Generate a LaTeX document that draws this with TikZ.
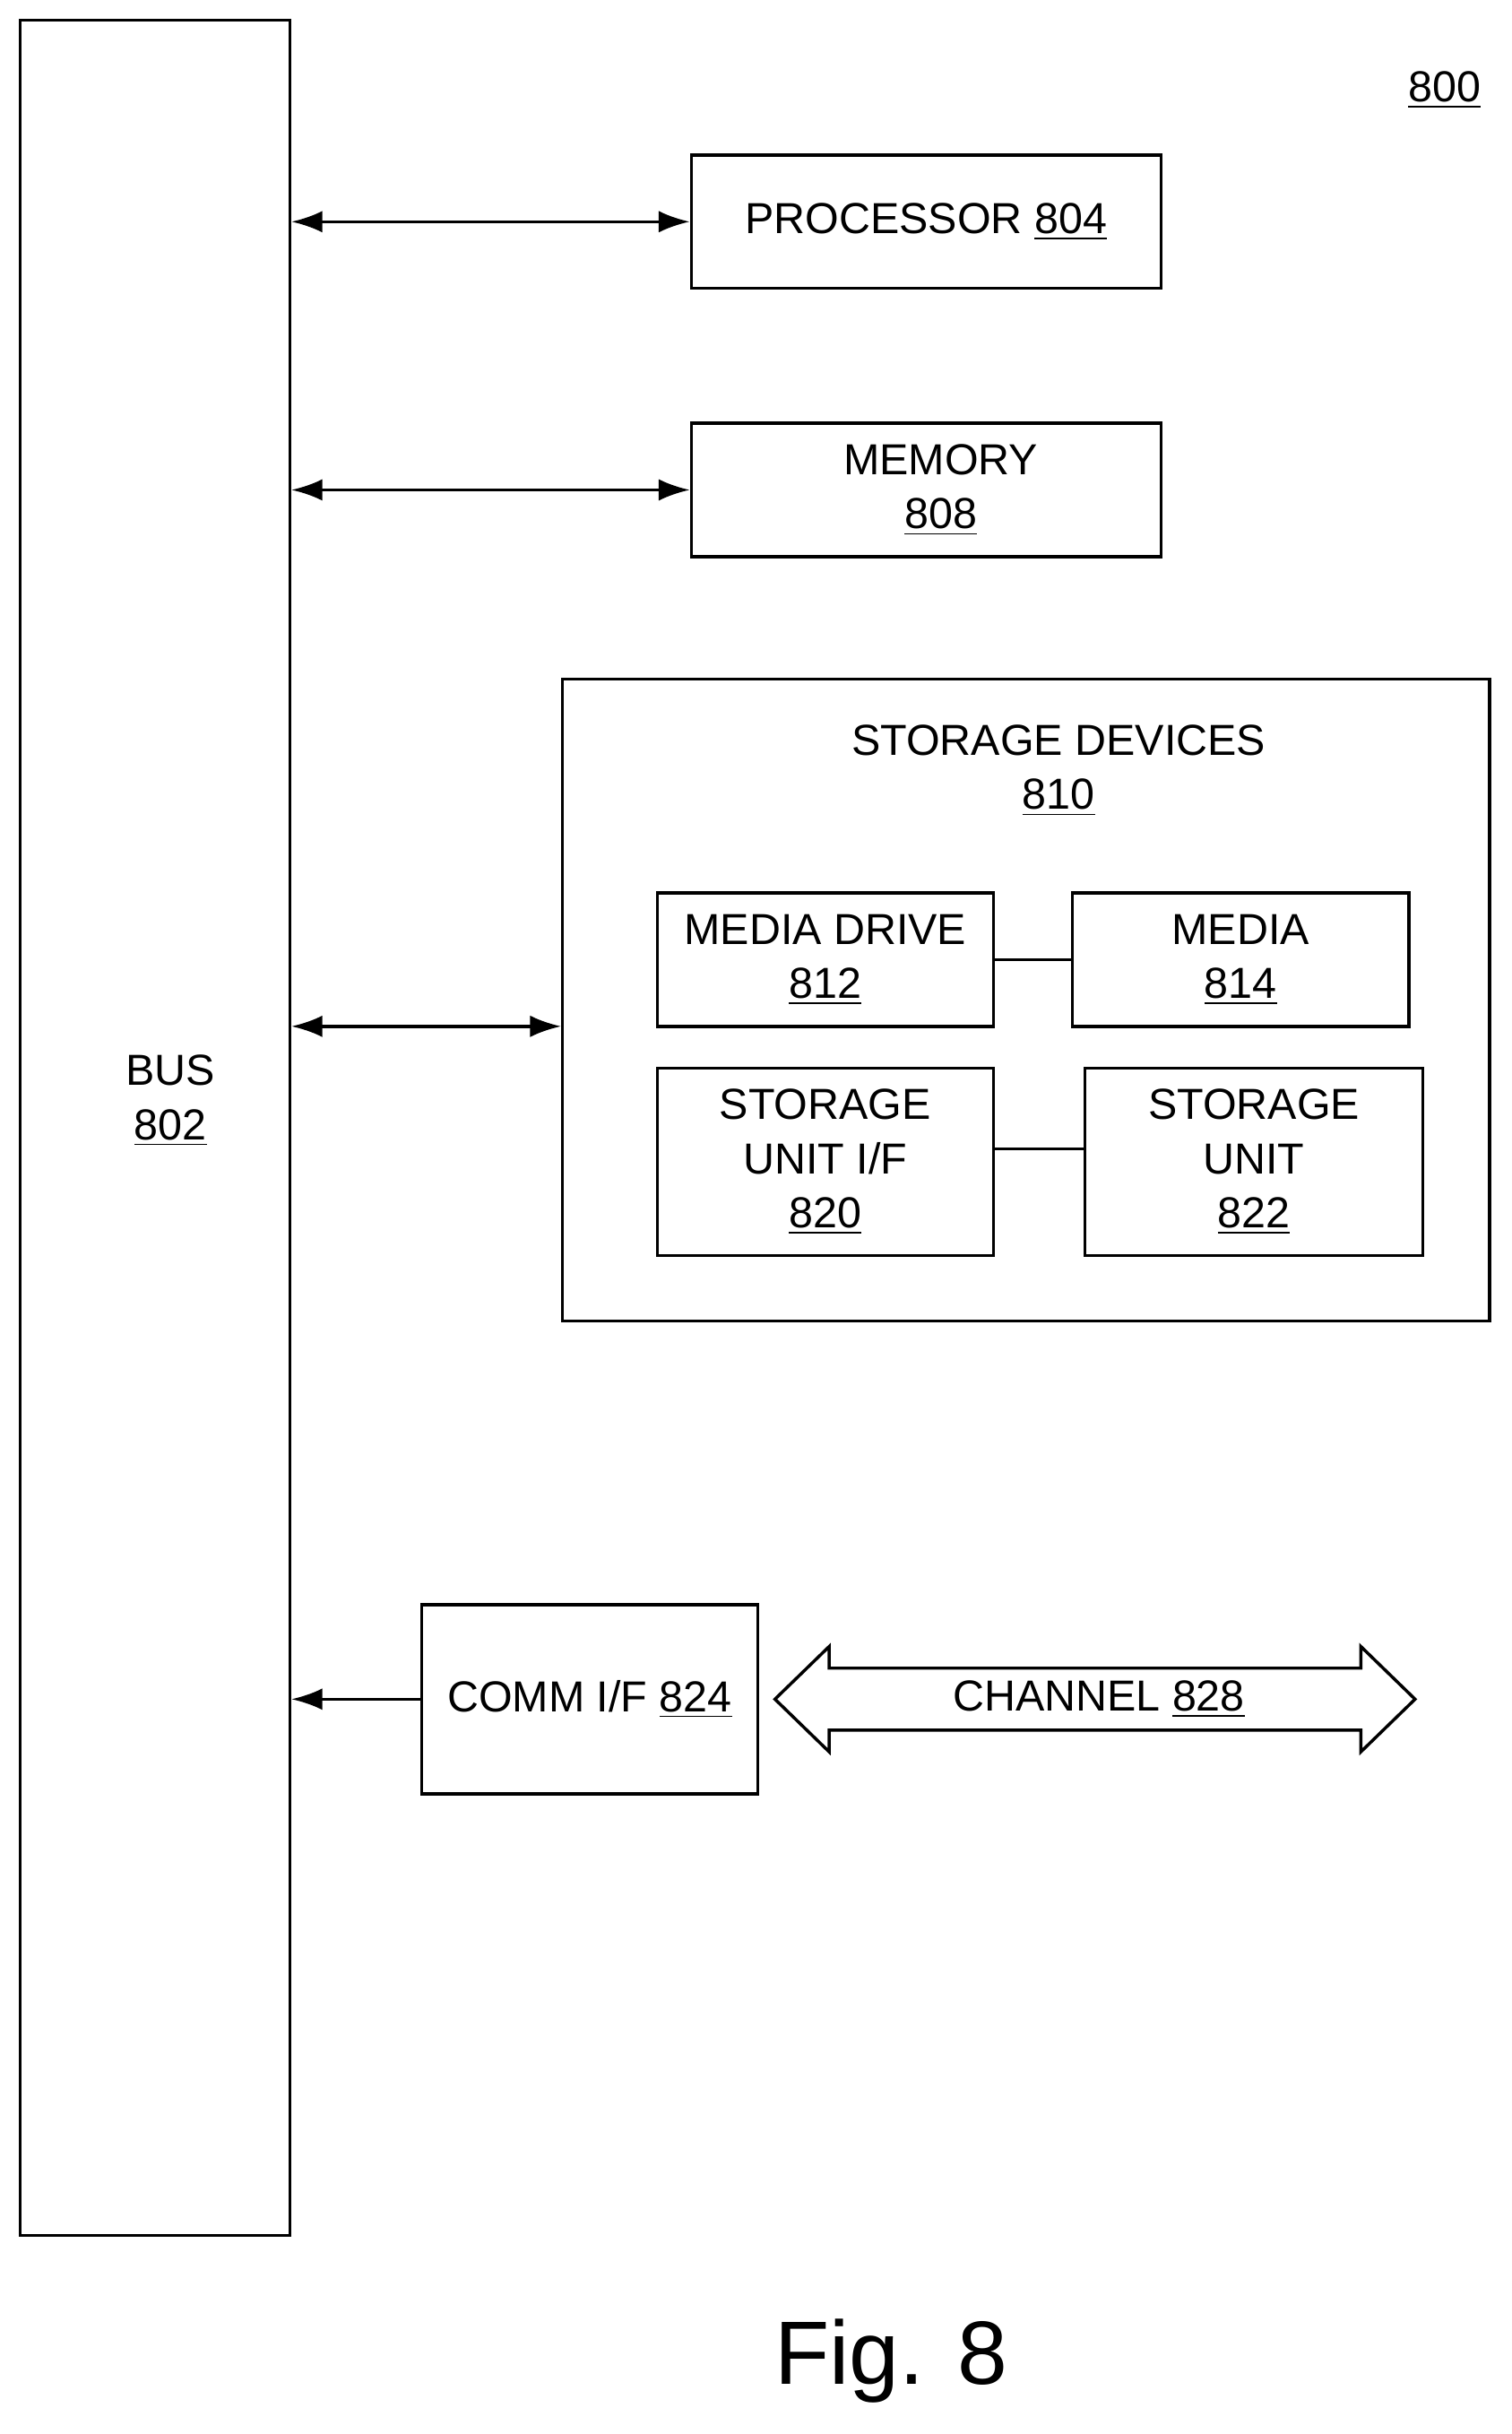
\documentclass[tikz,border=0pt]{standalone}
\usepackage{fontspec}
\setmainfont{Liberation Sans}
\usetikzlibrary{arrows.meta}
\tikzset{
  box/.style={draw, line width=1pt, align=center, inner sep=0pt, font=\fontsize{14}{17.5}\selectfont},
  link/.style={line width=1pt, {Latex[length=10pt,width=7pt]}-{Latex[length=10pt,width=7pt]}},
  lbl/.style={font=\fontsize{14}{17.5}\selectfont, align=center}
}
\begin{document}
\begin{tikzpicture}[x=0.5pt,y=-0.5pt]
\useasboundingbox (0,0) rectangle (975,1570);
% bus
\node[box, minimum width=87pt, minimum height=714.5pt] (bus) at (100,727.5) {};
\node[lbl] at (110,710) {BUS\\\underline{802}};
% top level units
\node[box, minimum width=151.5pt, minimum height=43pt] (proc) at (597.5,143) {PROCESSOR \underline{804}};
\node[box, minimum width=151.5pt, minimum height=43pt] (mem) at (597.5,316) {};
\node[lbl] at (607,316) {MEMORY\\\underline{808}};
\node[box, minimum width=299pt, minimum height=207pt] (stor) at (662,645) {};
\node[lbl] at (683,497) {STORAGE DEVICES\\\underline{810}};
\node[box, minimum width=108.5pt, minimum height=43pt] (drive) at (532.5,619) {MEDIA DRIVE\\\underline{812}};
\node[box, minimum width=108.5pt, minimum height=43pt] (media) at (800.5,619) {MEDIA\\\underline{814}};
\node[box, minimum width=108.5pt, minimum height=60.5pt] (suif) at (532.5,749.5) {STORAGE\\UNIT I/F\\\underline{820}};
\node[box, minimum width=109pt, minimum height=60.5pt] (sunit) at (809,749.5) {STORAGE\\UNIT\\\underline{822}};
\node[box, minimum width=108.5pt, minimum height=61pt] (comm) at (380.5,1096) {COMM I/F \underline{824}};
% connectors
\draw[link] (bus.east |- proc) -- (proc.west);
\draw[link] (bus.east |- mem) -- (mem.west);
\draw[link] (bus.east |- 0,662) -- (stor.west |- 0,662);
\draw[line width=1pt] (drive) -- (media);
\draw[line width=1pt] (suif.east |- 0,741) -- (sunit.west |- 0,741);
\draw[line width=1pt, -{Latex[length=10pt,width=7pt]}] (comm.west) -- (bus.east |- comm);
% channel
\draw[line width=1pt] (500,1096) -- (535,1062) -- (535,1076) -- (878,1076) -- (878,1062)
  -- (913,1096) -- (878,1130) -- (878,1116) -- (535,1116) -- (535,1130) -- cycle;
\node[lbl] (chan) at (709,1096) {CHANNEL \underline{828}};
\node[lbl] (ref) at (932,58) {\underline{800}};
\node[font=\fontsize{29}{34}\selectfont] (fig) at (575,1523) {Fig. 8};
\end{tikzpicture}
\end{document}
